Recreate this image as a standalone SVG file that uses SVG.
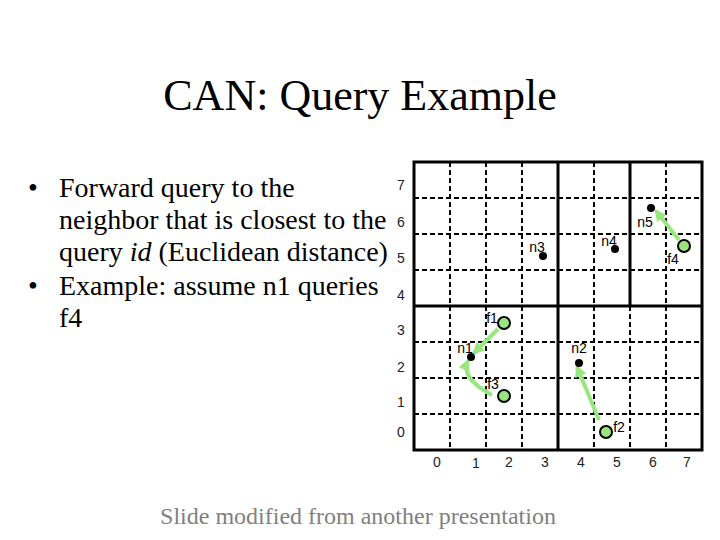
<svg xmlns="http://www.w3.org/2000/svg" width="720" height="540" viewBox="0 0 720 540">
<style>
.title{font-family:"Liberation Serif","Times New Roman",serif;font-size:44px;fill:#000}
.body{font-family:"Liberation Serif","Times New Roman",serif;font-size:28px;fill:#000}
.foot{font-family:"Liberation Serif","Times New Roman",serif;font-size:24px;fill:#808080}
.ax{font-family:"Liberation Sans",Arial,sans-serif;font-size:14px;fill:#222;text-anchor:middle}
.lbl{font-family:"Liberation Sans",Arial,sans-serif;font-size:14px;fill:#000;text-anchor:middle}
.dash{stroke:#000;stroke-width:2;stroke-dasharray:5 3;fill:none}
.thick{stroke:#000;stroke-width:3;fill:none}
.dot{fill:#000}
.file{fill:#99E680;stroke:#000;stroke-width:2}
.arr{stroke:#99E680;stroke-width:4;fill:none;marker-end:url(#ah)}
</style>
<defs>
<marker id="ah" markerUnits="userSpaceOnUse" markerWidth="12" markerHeight="12" viewBox="0 0 10 10" refX="8" refY="5" orient="auto">
<path d="M0,0 L10,5 L0,10 z" fill="#99E680"/>
</marker>
</defs>
<rect x="0" y="0" width="720" height="540" fill="#fff"/>
<text class="title" x="360" y="110" text-anchor="middle">CAN: Query Example</text>
<g id="bullets">
<text class="body" x="28" y="197">•</text>
<text class="body" x="59" y="197">Forward query to the</text>
<text class="body" x="59" y="229">neighbor that is closest to the</text>
<text class="body" x="59" y="261">query <tspan font-style="italic">id</tspan> (Euclidean distance)</text>
<text class="body" x="28" y="295">•</text>
<text class="body" x="59" y="295">Example: assume n1 queries</text>
<text class="body" x="59" y="327">f4</text>
</g>
<g id="grid">
<path class="dash" d="M450,162V450M486,162V450M522,162V450M594,162V450M666,162V450M630,306V450"/>
<path class="dash" d="M414,198H702M414,234H702M414,270H702M414,342H702M414,378H702M414,414H702"/>
<rect class="thick" x="414" y="162" width="288" height="288"/>
<path class="thick" d="M558,162V450M414,306H702M630,162V306"/>
</g>
<g id="axes">
<text class="ax" x="401" y="190">7</text>
<text class="ax" x="401" y="227">6</text>
<text class="ax" x="401" y="263">5</text>
<text class="ax" x="401" y="300">4</text>
<text class="ax" x="401" y="335">3</text>
<text class="ax" x="401" y="372">2</text>
<text class="ax" x="401" y="407">1</text>
<text class="ax" x="401" y="437">0</text>
<text class="ax" x="437" y="467">0</text>
<text class="ax" x="476" y="468">1</text>
<text class="ax" x="509" y="467">2</text>
<text class="ax" x="545" y="467">3</text>
<text class="ax" x="581" y="467">4</text>
<text class="ax" x="617" y="467">5</text>
<text class="ax" x="653" y="467">6</text>
<text class="ax" x="687" y="467">7</text>
</g>
<g id="connectors">
<path class="arr" d="M679,240L656,211"/>
<path class="arr" d="M498,329L474,353"/>
<path class="arr" d="M492,395Q460,378 468,361"/>
<path class="arr" d="M599,420L577,367"/>
</g>
<g id="n1"><circle class="dot" cx="471" cy="357" r="4"/><text class="lbl" x="465" y="353">n1</text></g>
<g id="n2"><circle class="dot" cx="579" cy="363" r="4"/><text class="lbl" x="579" y="353">n2</text></g>
<g id="n3"><circle class="dot" cx="543" cy="256" r="4"/><text class="lbl" x="537" y="252">n3</text></g>
<g id="n4"><circle class="dot" cx="615" cy="249" r="4"/><text class="lbl" x="609" y="246">n4</text></g>
<g id="n5"><circle class="dot" cx="651" cy="208" r="4"/><text class="lbl" x="645" y="227">n5</text></g>
<g id="f1"><text class="lbl" x="492" y="323">f1</text><circle class="file" cx="504" cy="323" r="6"/></g>
<g id="f3"><text class="lbl" x="493" y="389">f3</text><circle class="file" cx="504" cy="396" r="6"/></g>
<g id="f2"><circle class="file" cx="606" cy="432" r="6"/><text class="lbl" x="619" y="432">f2</text></g>
<g id="f4"><circle class="file" cx="684" cy="246" r="6"/><text class="lbl" x="673" y="264">f4</text></g>
<text class="foot" x="358" y="524" text-anchor="middle">Slide modified from another presentation</text>
</svg>
